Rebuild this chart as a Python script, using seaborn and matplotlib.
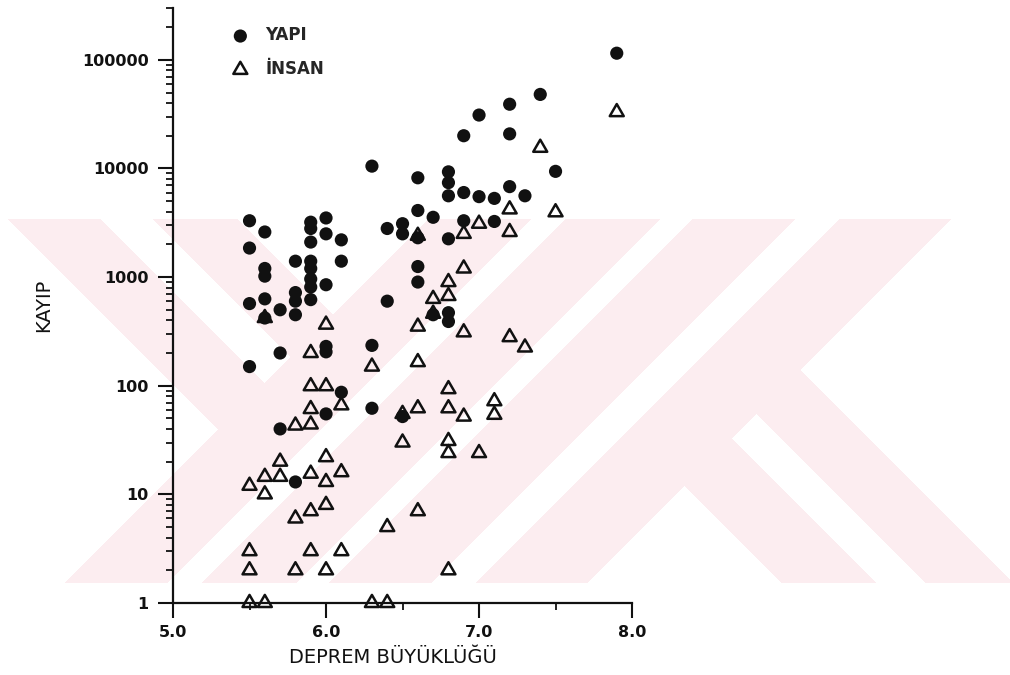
import numpy as np
import matplotlib
matplotlib.use("Agg")
import matplotlib.pyplot as plt
import matplotlib.path as mpath
import seaborn as sns
from matplotlib.ticker import LogLocator, NullFormatter

# --- data ---------------------------------------------------------------
yapi_mag = [5.5, 5.5, 5.5, 5.5,
            5.6, 5.6, 5.6, 5.6, 5.6,
            5.7, 5.7, 5.7,
            5.8, 5.8, 5.8, 5.8, 5.8,
            5.9, 5.9, 5.9, 5.9, 5.9, 5.9, 5.9, 5.9,
            6.0, 6.0, 6.0, 6.0, 6.0, 6.0,
            6.1, 6.1, 6.1,
            6.3, 6.3, 6.3,
            6.4, 6.4,
            6.5, 6.5, 6.5,
            6.6, 6.6, 6.6, 6.6, 6.6,
            6.7, 6.7,
            6.8, 6.8, 6.8, 6.8, 6.8, 6.8,
            6.9, 6.9, 6.9,
            7.0, 7.0,
            7.1, 7.1,
            7.2, 7.2, 7.2,
            7.3, 7.4, 7.5, 7.9]
yapi_loss = [3300, 1850, 570, 150,
             2600, 1200, 1020, 630, 420,
             500, 200, 40,
             1400, 720, 600, 450, 13,
             3200, 2800, 2100, 1400, 1200, 960, 810, 620,
             3500, 2500, 850, 230, 205, 55,
             2200, 1400, 87,
             10500, 235, 62,
             2800, 600,
             3100, 2500, 52,
             8200, 4100, 2300, 1250, 900,
             3550, 450,
             9300, 7400, 5600, 2250, 470, 390,
             20000, 6000, 3300,
             31000, 5500,
             5300, 3250,
             39000, 20800, 6800,
             5600, 48000, 9400, 115000]

insan_mag = [5.5, 5.5, 5.5, 5.5,
             5.6, 5.6, 5.6, 5.6,
             5.7, 5.7,
             5.8, 5.8, 5.8,
             5.9, 5.9, 5.9, 5.9, 5.9, 5.9, 5.9,
             6.0, 6.0, 6.0, 6.0, 6.0, 6.0,
             6.1, 6.1, 6.1,
             6.3, 6.3,
             6.4, 6.4,
             6.5, 6.5,
             6.6, 6.6, 6.6, 6.6, 6.6,
             6.7, 6.7,
             6.8, 6.8, 6.8, 6.8, 6.8, 6.8, 6.8,
             6.9, 6.9, 6.9, 6.9,
             7.0, 7.0,
             7.1, 7.1,
             7.2, 7.2, 7.2,
             7.3, 7.4, 7.5, 7.9]
insan_loss = [12, 3, 2, 1,
              420, 14.5, 10, 1,
              20, 14.5,
              43, 6, 2,
              200, 99, 61, 44, 15.5, 7, 3,
              365, 99, 22, 13, 8, 2,
              66, 16, 3,
              150, 1,
              5, 1,
              55, 30,
              2400, 350, 165, 62, 7,
              630, 460,
              900, 670, 93, 62, 31, 24, 2,
              2500, 1200, 310, 52,
              3100, 24,
              72, 54,
              4200, 2600, 280,
              225, 15500, 3950, 33000]

x_ticks = [5.0, 6.0, 7.0, 8.0]
x_ticklabels = ["5.0", "6.0", "7.0", "8.0"]
y_ticks = [1, 10, 100, 1000, 10000, 100000]
y_ticklabels = ["1", "10", "100", "1000", "10000", "100000"]

sns.set_theme(style="ticks")
plt.rcParams["font.family"] = ["DejaVu Sans"]

W, H = 1010, 675
fig = plt.figure(figsize=(W / 100, H / 100), dpi=100)

# faint thesis watermark behind the plot
bg = fig.add_axes([0, 0, 1, 1], zorder=0)
bg.axis("off")
yy, xx = np.mgrid[0:H, 0:W] + 0.5
s = xx + yy
d = xx - yy
band = (yy >= 219) & (yy <= 583)
upper_left = (s < 648) & (((d >= -211) & (d <= -119)) | ((d >= -66) & (d <= 18)))
middle = ((s >= 648) & (s <= 750)) | ((s >= 785) & (s <= 879)) | \
         ((s >= 912) & (s <= 1014)) | ((s >= 1059) & (s <= 1170))
lower_right = (s > 1170) & (((d >= 199) & (d <= 293)) | ((d >= 343) & (d <= 430)))
mask = band & (upper_left | middle | lower_right)
img = np.ones((H, W, 3))
img[mask] = np.array([252, 237, 240]) / 255
bg.imshow(img, aspect="auto", interpolation="nearest")

ax = fig.add_axes([0.1713, 0.1067, 0.4545, 0.8815], zorder=1)
ax.patch.set_alpha(0)

tri = mpath.Path([(0, 1), (-0.866, -0.5), (0.866, -0.5), (0, 1)], closed=True)

sns.scatterplot(x=yapi_mag, y=yapi_loss, ax=ax, marker="o", s=90,
                color="#111111", edgecolor="none", linewidth=0,
                label="YAPI", legend=False, clip_on=False, zorder=3)
sns.scatterplot(x=insan_mag, y=insan_loss, ax=ax, marker=tri, s=135,
                facecolor="none", edgecolor="#111111", linewidth=1.8,
                label="İNSAN", legend=False, clip_on=False, zorder=4)

ax.set_yscale("log")
ax.set_xlim(5.0, 8.0)
ax.set_ylim(1, 300000)

ax.set_xticks(x_ticks)
ax.set_xticklabels(x_ticklabels, fontweight="bold", fontsize=11.5)
ax.set_xticks([5.5, 6.5, 7.5], minor=True)
ax.set_yticks(y_ticks)
ax.set_yticklabels(y_ticklabels, fontweight="bold", fontsize=11.5)
ax.yaxis.set_minor_locator(LogLocator(base=10, subs=np.arange(2, 10)))
ax.yaxis.set_minor_formatter(NullFormatter())

for side in ["top", "right"]:
    ax.spines[side].set_visible(False)
for side in ["left", "bottom"]:
    ax.spines[side].set_linewidth(1.6)
    ax.spines[side].set_color("#111111")

ax.tick_params(which="major", direction="out", length=10.5, width=1.5,
               color="#111111", labelcolor="#111111")
ax.tick_params(which="minor", direction="out", length=5, width=1.3,
               color="#111111")
ax.tick_params(axis="x", which="major", pad=5)
ax.tick_params(axis="y", which="major", pad=7)

ax.set_xlabel("DEPREM BÜYÜKLÜĞÜ", fontsize=14, color="#111111")
ax.xaxis.set_label_coords(0.479, -0.075)
ax.set_ylabel("KAYIP", fontsize=14, color="#111111")
ax.yaxis.set_label_coords(-0.262, 0.5)

ax.legend(loc="upper left", bbox_to_anchor=(0.1285, 0.969), frameon=False,
          borderpad=0, borderaxespad=0, handlelength=1.0, handletextpad=1.0,
          labelspacing=0.95, prop={"weight": "bold", "size": 12})

fig.savefig("out.png", dpi=100)
plt.close(fig)
